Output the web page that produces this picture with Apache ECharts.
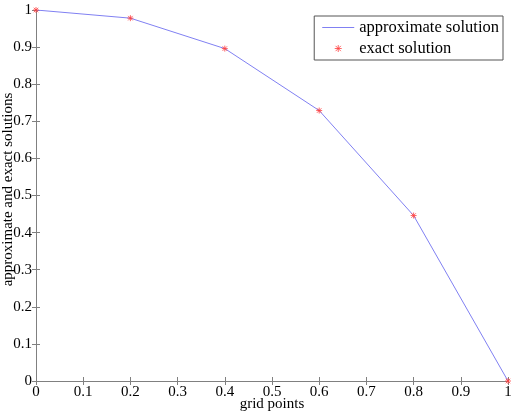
<!DOCTYPE html>
<html>
<head>
<meta charset="utf-8">
<script src="https://cdn.jsdelivr.net/npm/echarts@6/dist/echarts.min.js"></script>
<style>
  html, body { margin: 0; padding: 0; background: #fff; }
  #chart { width: 515px; height: 414px; }
</style>
</head>
<body>
<div id="chart"></div>
<script>
const gridX = [0, 0.2, 0.4, 0.6, 0.8, 1]
const approx = [1, 0.978, 0.896, 0.729, 0.446, 0]
const exact = [1, 0.978, 0.896, 0.729, 0.446, 0]
const xLabel = 'grid points'
const yLabel = 'approximate and exact solutions'

const font = 'Liberation Serif'
const axisGray = '#808080'
const lineBlue = '#8080f2'
const starRed = '#ff4040'
const star = 'path://M0,-4L0,4M-4,0L4,0M-3,-3L3,3M-3,3L3,-3'

const chart = echarts.init(document.getElementById('chart'))

const baseAxis = {
  type: 'value',
  min: 0,
  max: 1,
  interval: 0.1,
  splitLine: { show: false },
  axisLine: { show: true, lineStyle: { color: axisGray, width: 1 } },
  axisTick: { show: true, inside: true, length: 4, lineStyle: { color: axisGray } },
}
const fmt = v => String(+v.toFixed(1))

chart.setOption({
  animation: false,
  grid: { left: 36, right: 7, top: 10, bottom: 33, outerBoundsMode: 'none', containLabel: false },
  xAxis: [
    {
      ...baseAxis,
      position: 'bottom',
      name: xLabel,
      nameLocation: 'middle',
      nameGap: 16,
      nameMoveOverlap: false,
      nameTextStyle: { fontFamily: font, fontSize: 15, color: '#000' },
      axisLabel: { fontFamily: font, fontSize: 15, color: '#000', margin: 4, formatter: fmt },
    },
    { ...baseAxis, position: 'top', axisLabel: { show: false } },
  ],
  yAxis: [
    {
      ...baseAxis,
      position: 'left',
      name: yLabel,
      nameLocation: 'middle',
      nameGap: 20,
      nameMoveOverlap: false,
      nameTextStyle: { fontFamily: font, fontSize: 15, color: '#000', padding: [0, 0, 0, 12] },
      axisLabel: { fontFamily: font, fontSize: 15, color: '#000', margin: 4, formatter: fmt },
    },
    { ...baseAxis, position: 'right', axisLabel: { show: false } },
  ],
  legend: {
    right: 12,
    top: 16,
    orient: 'vertical',
    padding: [3, 4, 3, 8],
    itemGap: 4,
    itemWidth: 32,
    itemHeight: 7,
    borderColor: '#555',
    borderWidth: 1,
    borderRadius: 0,
    backgroundColor: '#fff',
    textStyle: { fontFamily: font, fontSize: 16.5, color: '#000' },
    data: [
      { name: 'approximate solution', icon: 'path://M0,0L32,0L32,1L0,1Z',
        itemStyle: { color: lineBlue, borderWidth: 0 } },
      { name: 'exact solution', icon: star,
        itemStyle: { color: 'none', borderColor: starRed, borderWidth: 1 } },
    ],
  },
  series: [
    {
      name: 'approximate solution',
      type: 'line',
      data: gridX.map((x, i) => [x, approx[i]]),
      showSymbol: false,
      symbol: 'none',
      lineStyle: { color: lineBlue, width: 1 },
      itemStyle: { color: lineBlue },
    },
    {
      name: 'exact solution',
      type: 'scatter',
      data: gridX.map((x, i) => [x, exact[i]]),
      symbol: star,
      symbolSize: 6,
      itemStyle: { color: 'none', borderColor: starRed, borderWidth: 1 },
      z: 3,
    },
  ],
})
</script>
</body>
</html>
